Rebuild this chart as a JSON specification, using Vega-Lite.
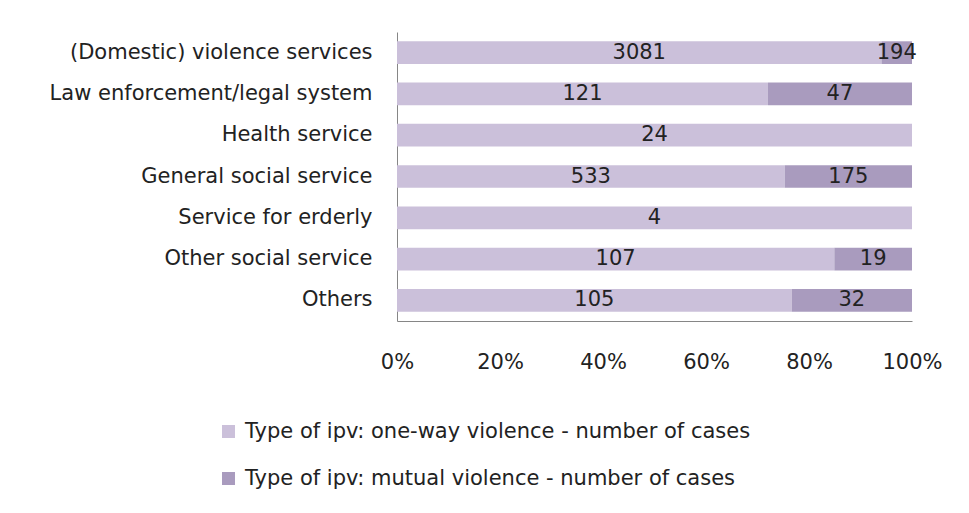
{
  "$schema": "https://vega.github.io/schema/vega-lite/v6.json",
  "width": 515,
  "height": 289,
  "autosize": {"type": "none"},
  "padding": {"left": 397, "top": 32, "right": 57, "bottom": 192},
  "background": "white",
  "config": {
    "font": "DejaVu Sans",
    "view": {"stroke": null}
  },
  "data": {
    "values": [
      {"category": "(Domestic) violence services", "type": "Type of ipv: one-way violence - number of cases", "value": 3081},
      {"category": "(Domestic) violence services", "type": "Type of ipv: mutual violence - number of cases", "value": 194},
      {"category": "Law enforcement/legal system", "type": "Type of ipv: one-way violence - number of cases", "value": 121},
      {"category": "Law enforcement/legal system", "type": "Type of ipv: mutual violence - number of cases", "value": 47},
      {"category": "Health service", "type": "Type of ipv: one-way violence - number of cases", "value": 24},
      {"category": "General social service", "type": "Type of ipv: one-way violence - number of cases", "value": 533},
      {"category": "General social service", "type": "Type of ipv: mutual violence - number of cases", "value": 175},
      {"category": "Service for erderly", "type": "Type of ipv: one-way violence - number of cases", "value": 4},
      {"category": "Other social service", "type": "Type of ipv: one-way violence - number of cases", "value": 107},
      {"category": "Other social service", "type": "Type of ipv: mutual violence - number of cases", "value": 19},
      {"category": "Others", "type": "Type of ipv: one-way violence - number of cases", "value": 105},
      {"category": "Others", "type": "Type of ipv: mutual violence - number of cases", "value": 32}
    ]
  },
  "transform": [
    {"stack": "value", "groupby": ["category"], "sort": [{"field": "type", "order": "descending"}], "offset": "normalize", "as": ["x0", "x1"]},
    {"calculate": "(datum.x0 + datum.x1) / 2", "as": "xm"}
  ],
  "encoding": {
    "y": {
      "field": "category",
      "type": "nominal",
      "sort": null,
      "scale": {"paddingInner": 0.45, "paddingOuter": 0.225},
      "axis": {
        "title": null,
        "ticks": false,
        "labelPadding": 25,
        "labelFontSize": 21,
        "labelColor": "#222222",
        "labelLimit": 400,
        "domainColor": "#868686",
        "domainWidth": 1
      }
    }
  },
  "layer": [
    {
      "mark": {"type": "bar"},
      "encoding": {
        "x": {
          "field": "x0",
          "type": "quantitative",
          "scale": {"domain": [0, 1], "nice": false},
          "axis": {
            "title": null,
            "format": "%",
            "values": [0, 0.2, 0.4, 0.6, 0.8, 1],
            "ticks": false,
            "grid": false,
            "labelPadding": 30,
            "labelFontSize": 21,
            "labelColor": "#222222",
            "labelFlush": false,
            "domainColor": "#868686",
            "domainWidth": 1
          }
        },
        "x2": {"field": "x1"},
        "color": {
          "field": "type",
          "type": "nominal",
          "scale": {
            "domain": ["Type of ipv: one-way violence - number of cases", "Type of ipv: mutual violence - number of cases"],
            "range": ["#CBC0DA", "#A99BBE"]
          },
          "legend": {
            "title": null,
            "orient": "none",
            "legendX": -179,
            "legendY": 389,
            "direction": "vertical",
            "symbolType": "square",
            "symbolSize": 169,
            "symbolStrokeWidth": 0,
            "labelFontSize": 21,
            "labelColor": "#222222",
            "labelOffset": 6,
            "labelLimit": 700,
            "rowPadding": 25
          }
        }
      }
    },
    {
      "mark": {"type": "text", "fontSize": 21, "color": "#222222"},
      "encoding": {
        "x": {"field": "xm", "type": "quantitative"},
        "text": {"field": "value", "type": "quantitative"}
      }
    }
  ]
}
